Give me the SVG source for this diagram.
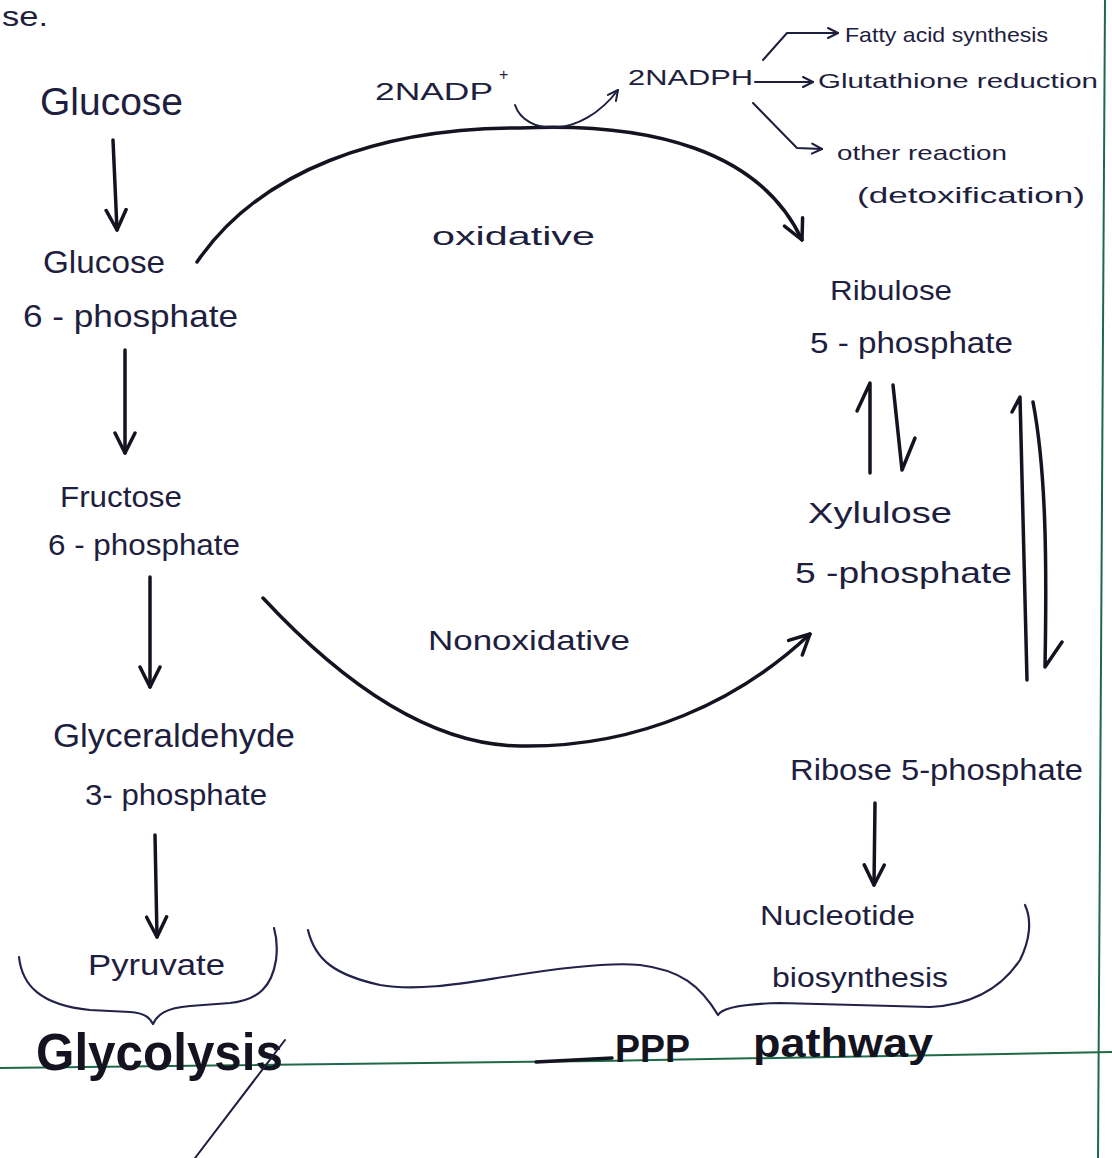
<svg xmlns="http://www.w3.org/2000/svg" width="1112" height="1158" viewBox="0 0 1112 1158">
<style>
text{font-family:"Liberation Sans","DejaVu Sans",sans-serif;fill:#1e1e3e;}
.ink{fill:none;stroke:#141420;stroke-width:3.5;stroke-linecap:round;stroke-linejoin:round;}
.thin{fill:none;stroke:#1e1e3e;stroke-width:2;stroke-linecap:round;stroke-linejoin:round;}
.brace{fill:none;stroke:#22224a;stroke-width:2.2;stroke-linecap:round;stroke-linejoin:round;}
.green{fill:none;stroke:#1e6a48;stroke-width:2;}
.bold{font-weight:bold;fill:#141420;}
</style>
<defs>
<marker id="big" viewBox="0 0 24 24" refX="22" refY="12" markerWidth="24" markerHeight="24" markerUnits="userSpaceOnUse" orient="auto">
<path d="M2,2 L22,12 L2,22" fill="none" stroke="#141420" stroke-width="3.5" stroke-linecap="round" stroke-linejoin="round"/>
</marker>
<marker id="small" viewBox="0 0 14 14" refX="12" refY="7" markerWidth="14" markerHeight="14" markerUnits="userSpaceOnUse" orient="auto">
<path d="M2,2 L12,7 L2,12" fill="none" stroke="#1e1e3e" stroke-width="2" stroke-linecap="round" stroke-linejoin="round"/>
</marker>
</defs>
<rect width="1112" height="1158" fill="#ffffff"/>
<g id="page-lines">
<path class="green" d="M0,1068 L600,1061 L1112,1052"/>
<path class="green" d="M1105,0 L1098,1158"/>
</g>
<text x="2" y="26" font-size="28" textLength="46" lengthAdjust="spacingAndGlyphs">se.</text>
<g id="n-glucose"><text x="40" y="115" font-size="38" textLength="143" lengthAdjust="spacingAndGlyphs">Glucose</text></g>
<g id="n-g6p">
<text x="43" y="273" font-size="32" textLength="122" lengthAdjust="spacingAndGlyphs">Glucose</text>
<text x="23" y="327" font-size="32" textLength="215" lengthAdjust="spacingAndGlyphs">6 - phosphate</text>
</g>
<g id="n-f6p">
<text x="60" y="507" font-size="30" textLength="122" lengthAdjust="spacingAndGlyphs">Fructose</text>
<text x="48" y="555" font-size="30" textLength="192" lengthAdjust="spacingAndGlyphs">6 - phosphate</text>
</g>
<g id="n-gap">
<text x="53" y="747" font-size="34" textLength="242" lengthAdjust="spacingAndGlyphs">Glyceraldehyde</text>
<text x="85" y="805" font-size="30" textLength="182" lengthAdjust="spacingAndGlyphs">3- phosphate</text>
</g>
<g id="n-pyruvate"><text x="88" y="975" font-size="30" textLength="137" lengthAdjust="spacingAndGlyphs">Pyruvate</text></g>
<g id="n-glycolysis"><text class="bold" x="36" y="1070" font-size="52" textLength="247" lengthAdjust="spacingAndGlyphs">Glycolysis</text></g>
<g id="n-ppp">
<text class="bold" x="615" y="1062" font-size="38" textLength="75" lengthAdjust="spacingAndGlyphs">PPP</text>
<text class="bold" x="753" y="1057" font-size="40" textLength="180" lengthAdjust="spacingAndGlyphs">pathway</text>
</g>
<g id="n-nucleotide">
<text x="760" y="925" font-size="28" textLength="155" lengthAdjust="spacingAndGlyphs">Nucleotide</text>
<text x="772" y="987" font-size="28" textLength="176" lengthAdjust="spacingAndGlyphs">biosynthesis</text>
</g>
<g id="n-r5p"><text x="790" y="780" font-size="30" textLength="293" lengthAdjust="spacingAndGlyphs">Ribose 5-phosphate</text></g>
<g id="n-xu5p">
<text x="808" y="523" font-size="30" textLength="144" lengthAdjust="spacingAndGlyphs">Xylulose</text>
<text x="795" y="583" font-size="30" textLength="217" lengthAdjust="spacingAndGlyphs">5 -phosphate</text>
</g>
<g id="n-ru5p">
<text x="830" y="300" font-size="28" textLength="122" lengthAdjust="spacingAndGlyphs">Ribulose</text>
<text x="810" y="353" font-size="30" textLength="203" lengthAdjust="spacingAndGlyphs">5 - phosphate</text>
</g>
<g id="n-oxidative"><text x="432" y="245" font-size="26" textLength="163" lengthAdjust="spacingAndGlyphs">oxidative</text></g>
<g id="n-nonoxidative"><text x="428" y="650" font-size="28" textLength="202" lengthAdjust="spacingAndGlyphs">Nonoxidative</text></g>
<g id="n-nadp">
<text x="375" y="100" font-size="24" textLength="118" lengthAdjust="spacingAndGlyphs">2NADP</text>
<text x="499" y="80" font-size="16">+</text>
</g>
<g id="n-nadph"><text x="628" y="85" font-size="22" textLength="125" lengthAdjust="spacingAndGlyphs">2NADPH</text></g>
<g id="n-fatty"><text x="845" y="42" font-size="21" textLength="203" lengthAdjust="spacingAndGlyphs">Fatty acid synthesis</text></g>
<g id="n-glut"><text x="818" y="88" font-size="21" textLength="280" lengthAdjust="spacingAndGlyphs">Glutathione reduction</text></g>
<g id="n-other">
<text x="837" y="160" font-size="21" textLength="170" lengthAdjust="spacingAndGlyphs">other reaction</text>
<text x="857" y="203" font-size="22" textLength="228" lengthAdjust="spacingAndGlyphs">(detoxification)</text>
</g>
<g id="connectors">
<path class="ink" d="M113,140 L117,230" marker-end="url(#big)"/>
<path class="ink" d="M125,350 L125,453" marker-end="url(#big)"/>
<path class="ink" d="M150,577 L150,687" marker-end="url(#big)"/>
<path class="ink" d="M155,835 L157,937" marker-end="url(#big)"/>
<path class="ink" d="M875,803 L874,885" marker-end="url(#big)"/>
<path class="ink" d="M197,262 C260,170 380,128 520,128 C650,122 760,150 802,240" marker-end="url(#big)"/>
<path class="ink" d="M263,598 C330,670 420,745 520,746 C640,748 740,700 810,634" marker-end="url(#big)"/>
<path class="thin" d="M515,105 C525,135 580,140 618,90" marker-end="url(#small)"/>
<path class="thin" d="M763,60 L787,33 L838,33" marker-end="url(#small)"/>
<path class="thin" d="M755,82 L813,82" marker-end="url(#small)"/>
<path class="thin" d="M753,103 L797,148 L822,149" marker-end="url(#small)"/>
<path class="ink" d="M870,473 L870,383 L857,411"/>
<path class="ink" d="M893,385 L902,470 L915,438"/>
<path class="ink" d="M1027,680 L1020,397 L1012,412"/>
<path class="ink" d="M1033,402 C1046,470 1047,560 1045,667 L1062,642"/>
</g>
<g id="braces">
<path class="brace" d="M19,957 C22,985 40,1005 90,1010 L130,1012 C145,1013 150,1018 153,1024 C157,1015 165,1008 190,1006 L230,1003 C260,1000 272,985 276,960 C278,945 276,935 274,928"/>
<path class="brace" d="M308,930 C315,960 335,975 380,985 C420,992 470,982 510,976 C560,968 610,962 640,965 C680,970 700,985 718,1015 C722,1008 740,1004 780,1003 L930,1007 C970,1005 1000,990 1020,960 C1030,940 1032,920 1025,905"/>
</g>
<g id="strokes">
<path class="ink" d="M536,1062 L612,1058" stroke-width="3"/>
<path class="thin" d="M285,1040 L195,1158"/>
</g>
</svg>
